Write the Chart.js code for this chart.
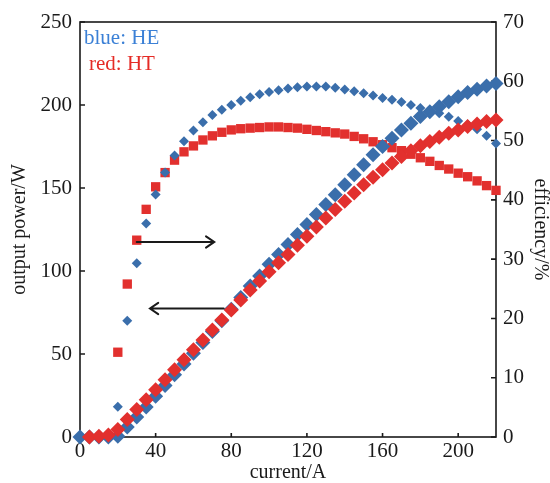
<!DOCTYPE html>
<html>
<head>
<meta charset="utf-8">
<script src="https://cdn.jsdelivr.net/npm/chart.js@4/dist/chart.umd.min.js"></script>
<style>
  html, body { margin: 0; padding: 0; background: #fff; }
</style>
</head>
<body>
<canvas id="myChart" width="550" height="483"></canvas>
<script>
// Output power and efficiency vs. current for the HE and HT devices

const current = [0, 5, 10, 15, 20, 25, 30, 35, 40, 45, 50, 55, 60, 65, 70, 75, 80, 85, 90, 95,
  100, 105, 110, 115, 120, 125, 130, 135, 140, 145, 150, 155, 160, 165, 170, 175, 180, 185, 190, 195,
  200, 205, 210, 215, 220];

// output power (W), left axis
const powerHE = [0, 0, 0, 0, 0.5, 6, 12, 18, 24.5, 31, 37.5, 44, 50.5, 57, 63.5, 70, 77, 84, 91, 97,
  104, 110, 116, 122, 128, 134, 140, 146, 152, 158, 164, 170, 175, 180, 185, 189, 193, 196, 199, 202,
  205, 207.5, 209.5, 211.5, 213];
const powerHT = [null, 0, 0.5, 1.2, 4.5, 10.5, 16.5, 22.5, 28.5, 34.5, 40.5, 46.5, 52.5, 58.5, 64.5, 70.5, 76.5, 82.5, 88.5, 94,
  99.5, 105, 110, 115.5, 121, 126.5, 132, 137, 142, 147, 152, 156.5, 161, 165, 169, 172.5, 175.5, 178, 180.5, 183,
  185, 187, 188.5, 190, 191];

// efficiency (%), right axis
const effHE = [null, null, null, null, 5.1, 19.6, 29.3, 36.0, 40.9, 44.6, 47.5, 49.9, 51.7, 53.1, 54.3, 55.2, 56.0, 56.7, 57.3, 57.8,
  58.2, 58.5, 58.8, 59.0, 59.1, 59.1, 59.1, 58.9, 58.6, 58.3, 58.0, 57.6, 57.2, 56.9, 56.5, 56.0, 55.5, 55.1, 54.6, 54.0,
  53.3, 52.7, 51.9, 50.8, 49.5];
const effHT = [null, null, null, null, 14.3, 25.8, 33.2, 38.4, 42.2, 44.6, 46.7, 48.1, 49.1, 50.1, 50.8, 51.4, 51.8, 52.0, 52.1, 52.2,
  52.3, 52.3, 52.2, 52.1, 51.9, 51.7, 51.5, 51.3, 51.1, 50.7, 50.3, 49.8, 49.3, 48.8, 48.3, 47.7, 47.1, 46.5, 45.8, 45.2,
  44.5, 43.9, 43.2, 42.4, 41.6];

const xTicks = [0, 40, 80, 120, 160, 200];
const powerTicks = [0, 50, 100, 150, 200, 250];
const effTicks = [0, 10, 20, 30, 40, 50, 60, 70];

// arrows telling which axis each family of curves belongs to (current, power)
const arrows = [
  { from: [30, 117.5], to: [71, 117.5] },
  { from: [76, 77.4], to: [37, 77.4] },
];

const FONT = "'Liberation Serif', 'Times New Roman', serif";
const BLUE = "#3a6eab";
const RED = "#e2302e";
const INK = "#1a1a1a";

function toPoints(ys) {
  return current.map((x, i) => ({ x: x, y: ys[i] })).filter((p) => p.y !== null);
}

function setTicks(values) {
  return (scale) => {
    scale.ticks = values.map((v) => ({ value: v }));
  };
}

// box around the plot with short inward tick marks
const framePlugin = {
  id: "frame",
  beforeDatasetsDraw(chart) {
    const { ctx, chartArea: a, scales } = chart;
    ctx.save();
    ctx.strokeStyle = INK;
    ctx.lineWidth = 1.6;
    ctx.strokeRect(a.left, a.top, a.right - a.left, a.bottom - a.top);
    ctx.beginPath();
    xTicks.forEach((v) => {
      const px = scales.x.getPixelForValue(v);
      ctx.moveTo(px, a.bottom);
      ctx.lineTo(px, a.bottom - 4);
    });
    powerTicks.forEach((v) => {
      const py = scales.yPower.getPixelForValue(v);
      ctx.moveTo(a.left, py);
      ctx.lineTo(a.left + 5, py);
    });
    effTicks.forEach((v) => {
      const py = scales.yEff.getPixelForValue(v);
      ctx.moveTo(a.right, py);
      ctx.lineTo(a.right - 5, py);
    });
    ctx.stroke();
    ctx.restore();
  },
  afterDatasetsDraw(chart) {
    const { ctx, chartArea: a, scales } = chart;
    ctx.save();
    // arrows
    ctx.strokeStyle = INK;
    ctx.lineWidth = 2;
    ctx.lineCap = "round";
    arrows.forEach((ar) => {
      const x1 = scales.x.getPixelForValue(ar.from[0]);
      const y1 = scales.yPower.getPixelForValue(ar.from[1]);
      const x2 = scales.x.getPixelForValue(ar.to[0]);
      const y2 = scales.yPower.getPixelForValue(ar.to[1]);
      const ang = Math.atan2(y2 - y1, x2 - x1);
      const head = 10;
      ctx.beginPath();
      ctx.moveTo(x1, y1);
      ctx.lineTo(x2, y2);
      ctx.moveTo(x2 - head * Math.cos(ang - 0.6), y2 - head * Math.sin(ang - 0.6));
      ctx.lineTo(x2, y2);
      ctx.lineTo(x2 - head * Math.cos(ang + 0.6), y2 - head * Math.sin(ang + 0.6));
      ctx.stroke();
    });
    // key
    ctx.font = "21px " + FONT;
    ctx.textBaseline = "alphabetic";
    ctx.fillStyle = "#3b80d6";
    ctx.fillText("blue: HE", a.left + 4, 44);
    ctx.fillStyle = "#e52b26";
    ctx.fillText("red: HT", a.left + 9, 70);
    ctx.restore();
  },
};

const tickFont = { family: FONT, size: 21 };
const titleFont = { family: FONT, size: 20, lineHeight: 1 };

new Chart(document.getElementById("myChart"), {
  type: "scatter",
  data: {
    datasets: [
      {
        label: "HT output power",
        data: toPoints(powerHT),
        yAxisID: "yPower",
        pointStyle: "rectRot",
        pointRadius: 7.5,
        backgroundColor: RED,
        borderWidth: 0,
        order: 0,
      },
      {
        label: "HE output power",
        data: toPoints(powerHE),
        yAxisID: "yPower",
        pointStyle: "rectRot",
        pointRadius: 7.5,
        backgroundColor: BLUE,
        borderWidth: 0,
        order: 1,
      },
      {
        label: "HE efficiency",
        data: toPoints(effHE),
        yAxisID: "yEff",
        pointStyle: "rectRot",
        pointRadius: 5,
        backgroundColor: BLUE,
        borderWidth: 0,
        order: 2,
      },
      {
        label: "HT efficiency",
        data: toPoints(effHT),
        yAxisID: "yEff",
        pointStyle: "rect",
        pointRadius: 6.6,
        backgroundColor: RED,
        borderWidth: 0,
        order: 3,
      },
    ],
  },
  options: {
    responsive: false,
    animation: false,
    clip: false,
    layout: { padding: { top: 22, left: 0, right: 0, bottom: 0 } },
    plugins: { legend: { display: false }, tooltip: { enabled: false } },
    scales: {
      x: {
        type: "linear",
        min: 0,
        max: 220,
        afterBuildTicks: setTicks(xTicks),
        afterFit: (s) => { s.height = 46; },
        grid: { display: false, drawTicks: false },
        border: { display: false },
        ticks: { color: INK, font: tickFont, padding: 2, maxRotation: 0 },
        title: { display: true, text: "current/A", color: INK, font: titleFont, padding: { top: 0, bottom: 0 } },
      },
      yPower: {
        type: "linear",
        position: "left",
        min: 0,
        max: 250,
        afterBuildTicks: setTicks(powerTicks),
        afterFit: (s) => { s.width = 80; },
        grid: { display: false, drawTicks: false },
        border: { display: false },
        ticks: { color: INK, font: tickFont, padding: 8 },
        title: { display: true, text: "output power/W", color: INK, font: titleFont, padding: { top: 10, bottom: 0 } },
      },
      yEff: {
        type: "linear",
        position: "right",
        min: 0,
        max: 70,
        afterBuildTicks: setTicks(effTicks),
        afterFit: (s) => { s.width = 54; },
        grid: { display: false, drawTicks: false },
        border: { display: false },
        ticks: { color: INK, font: tickFont, padding: 7 },
        title: { display: true, text: "efficiency/%", color: INK, font: titleFont, padding: { top: 0, bottom: 0 } },
      },
    },
  },
  plugins: [framePlugin],
});
</script>
</body>
</html>
